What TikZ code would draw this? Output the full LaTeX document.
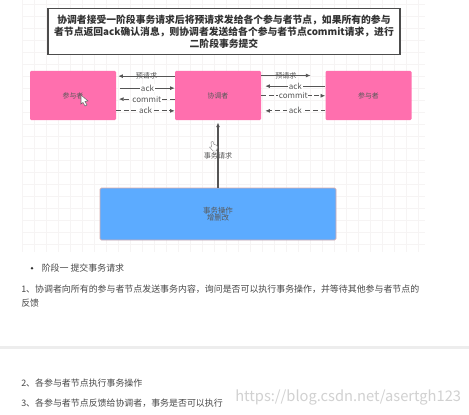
\documentclass[tikz,border=0pt]{standalone}
\usepackage{fontspec}
\setmainfont{Noto Sans CJK SC}
\usetikzlibrary{arrows.meta}
\definecolor{pinkbox}{HTML}{FF6FAE}
\definecolor{bluebox}{HTML}{5CABFF}
\definecolor{ink}{HTML}{555555}
\definecolor{gridc}{HTML}{F6F4F4}
\tikzset{
  px/.style={x=0.75pt,y=-0.75pt},
  party/.style={draw=none,fill=pinkbox,rounded corners=1pt,minimum width=64.5pt,minimum height=37pt,inner sep=0pt,text=black!65,font=\fontsize{5.2pt}{6pt}\selectfont},
  opbox/.style={draw=pink!70!gray,line width=0.6pt,fill=bluebox,rounded corners=1pt,minimum width=177pt,minimum height=39pt,inner sep=0pt,align=center,text=black!65,font=\fontsize{5.6pt}{5.6pt}\selectfont},
  notebox/.style={draw=black!70,line width=0.8pt,fill=white,minimum width=264pt,minimum height=35pt,inner sep=0pt,align=center,text=black!80,font=\fontsize{7.35pt}{9pt}\selectfont\bfseries},
  msg/.style={draw=ink,line width=0.6pt,-{Latex[length=3.5pt,width=3pt]}},
  msgd/.style={msg,dash pattern=on 3.5pt off 2.2pt},
  lab/.style={font=\fontsize{5.3pt}{6pt}\selectfont,text=ink,inner sep=0.6pt},
  labf/.style={lab,fill=white,font=\fontsize{6pt}{7pt}\selectfont},
  para/.style={anchor=west,inner sep=0pt,text=black!72,font=\fontsize{6.7pt}{8pt}\selectfont},
}
\begin{document}
\begin{tikzpicture}[px]
\useasboundingbox (0,0) rectangle (469,415);
\fill[white] (0,0) rectangle (469,415);
\foreach \x in {22,34,...,424} \draw[gridc,line width=0.3pt] (\x,0) -- (\x,252);
\foreach \y in {4,16,...,250} \draw[gridc,line width=0.3pt] (22,\y) -- (425,\y);
\fill[black!7] (0,346) rectangle (469,349);

\node[notebox] (note) at (224,31.5) {协调者接受一阶段事务请求后将预请求发给各个参与者节点，如果所有的参与\\者节点返回ack确认消息，则协调者发送给各个参与者节点commit请求，进行\\二阶段事务提交};

\node[party] (left) at (73,95.5) {参与者};
\node[party] (coord) at (218,95.5) {协调者};
\node[party] (right) at (368.5,95.5) {参与者};
\node[opbox] (op) at (218,214) {事务操作\\增删改};

\draw[msg] ([yshift=14.5pt]coord.west) -- node[lab] {预请求} ([yshift=14.5pt,xshift=1.5pt]left.east);
\draw[msg] ([yshift=5.5pt,xshift=3pt]left.east) -- node[labf] {ack} ([yshift=5.5pt]coord.west);
\draw[msgd] ([yshift=-2.7pt]coord.west) -- node[labf] {commit} ([yshift=-2.7pt,xshift=2pt]left.east);
\draw[msgd] ([yshift=-11.5pt]left.east) -- node[labf] {ack} ([yshift=-11.5pt]coord.west);

\draw[msg] ([yshift=15pt]coord.east) -- node[lab] {预请求} ([yshift=15pt,xshift=-11pt]right.west);
\draw[msg] ([yshift=7pt]right.west) -- node[labf] {ack} ([yshift=7pt,xshift=3pt]coord.east);
\draw[msgd] ([yshift=-0.2pt]coord.east) -- node[labf] {commit} ([yshift=-0.2pt]right.west);
\draw[msgd] ([yshift=-11.5pt]right.west) -- node[labf] {ack} ([yshift=-11.5pt,xshift=3pt]coord.east);

\draw[msg,line width=0.9pt] (op.north) -- node[lab,pos=0.49] {事务请求} ([yshift=-1.5pt]coord.south);

% pointer cursors from the screen capture
\draw[black!60,fill=white,line width=0.4pt] (81,95) -- (81,104) -- (83,102.5) -- (85,106) -- (87,105) -- (85,101.5) -- (88,101) -- cycle;
\draw[black!50,fill=white,line width=0.3pt] (211,142) -- (213,141.5) -- (214,144.5) -- (216.5,145) -- (217.5,147) -- (216.5,151) -- (213,151) -- (209.5,147) -- (211.5,147) -- cycle;

\fill[black!80] (32,268.3) circle (1.4);
\node[para] (t0) at (41.5,268.5) {阶段一 提交事务请求};
\node[para] (t1) at (21,289) {1、协调者向所有的参与者节点发送事务内容，询问是否可以执行事务操作，并等待其他参与者节点的};
\node[para] (t1b) at (21,303) {反馈};
\node[para] (t2) at (21,383) {2、各参与者节点执行事务操作};
\node[para] (t3) at (21,403.5) {3、各参与者节点反馈给协调者，事务是否可以执行};
\node[anchor=west,inner sep=0pt,text=black!18,font=\fontsize{11pt}{12pt}\selectfont] (wm) at (235,397) {https://blog.csdn.net/asertgh123};
\end{tikzpicture}
\end{document}
